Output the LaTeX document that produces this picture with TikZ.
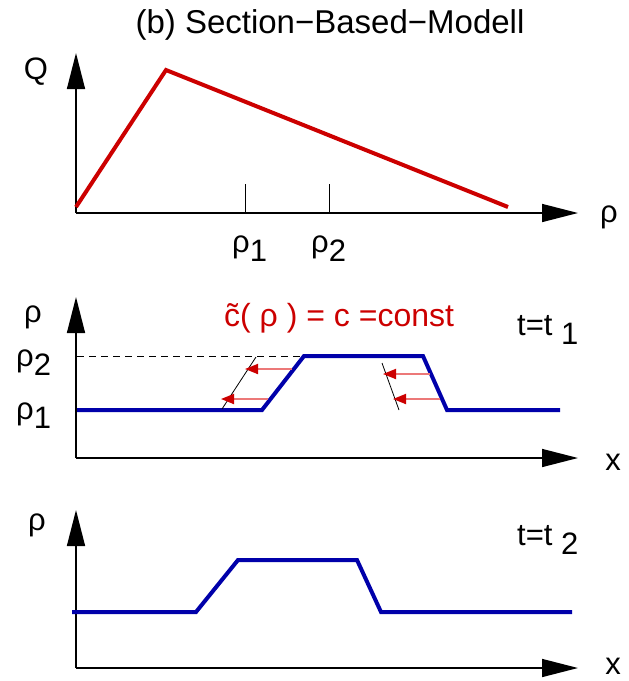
\documentclass[tikz,border=0pt]{standalone}
\usepackage{fontspec}
\setmainfont{Liberation Sans}
\usetikzlibrary{arrows.meta}
\definecolor{cred}{RGB}{204,0,0}
\definecolor{cblue}{RGB}{0,0,170}
\definecolor{cpink}{RGB}{236,120,120}
\newcommand\lowsub[1]{\raisebox{-0.32em}{#1}}
\begin{document}
\begin{tikzpicture}[x=1pt,y=-1pt,
  axis/.style={line width=1.5pt,-{Triangle[length=36pt,width=18pt]}},
  bluecurve/.style={line width=4pt,cblue,line join=miter},
  redcurve/.style={line width=4pt,cred,line join=miter},
  thin/.style={line width=0.8pt,black},
  flow/.style={line width=1.8pt,cpink,-{Triangle[length=13pt,width=10pt,color=cred]}},
  lbl/.style={inner sep=0pt,font=\fontsize{31}{36}\selectfont},
  redlbl/.style={inner sep=0pt,text=cred,font=\fontsize{32}{36}\selectfont},
  ttl/.style={inner sep=0pt,font=\fontsize{33}{38}\selectfont}
]
\useasboundingbox (0,0) rectangle (629,681);

% title
\node[ttl,anchor=base] (title) at (330,33) {(b) Section−Based−Modell};

% ---------- top panel ----------
\coordinate (o1) at (76,213);
\coordinate (y1) at (76,53);
\coordinate (x1) at (578,213);
\draw[axis] (o1) -- (y1);
\draw[axis] (o1) -- (x1);
\node[lbl,anchor=base] (Q) at (36,79) {Q};
\node[lbl,anchor=base] (rho1x) at (609,222) {ρ};
\coordinate (s0) at (76,207);
\coordinate (s1) at (166,70);
\coordinate (s2) at (508,207);
\draw[redcurve] (s0) -- (s1) -- (s2);
\coordinate (t1a) at (245,184); \coordinate (t1b) at (245,213);
\coordinate (t2a) at (329,184); \coordinate (t2b) at (329,213);
\draw[thin] (t1a) -- (t1b);
\draw[thin] (t2a) -- (t2b);
\node[lbl,anchor=base west] (lr1) at (232,252) {ρ\lowsub{1}};
\node[lbl,anchor=base west] (lr2) at (311,252) {ρ\lowsub{2}};

% ---------- middle panel ----------
\coordinate (o2) at (76,458);
\coordinate (y2) at (76,297);
\coordinate (x2) at (578,458);
\draw[axis] (o2) -- (y2);
\draw[axis] (o2) -- (x2);
\node[lbl,anchor=base] (rhoy2) at (33,322) {ρ};
\node[lbl,anchor=base west] (mr2) at (16,366) {ρ\lowsub{2}};
\node[lbl,anchor=base west] (mr1) at (16,419) {ρ\lowsub{1}};
\node[lbl,anchor=base] (xl2) at (613,470) {x};
\node[redlbl,anchor=base west] (ceq) at (224,326) {\~{c}( ρ ) = c =const};
\node[lbl,anchor=base west] (tt1) at (517,335) {t=t \lowsub{1}};
\coordinate (d0) at (77,356);
\coordinate (b1) at (304,356);
\draw[thin,dash pattern=on 7pt off 5pt] (d0) -- (b1);
\coordinate (b0) at (77,410);
\coordinate (b2) at (262,410);
\coordinate (b3) at (423,356);
\coordinate (b4) at (447,410);
\coordinate (b5) at (560,410);
\draw[bluecurve] (b0) -- (b2) -- (b1) -- (b3) -- (b4) -- (b5);
\coordinate (k1a) at (222,409); \coordinate (k1b) at (256,357);
\coordinate (k2a) at (382,363); \coordinate (k2b) at (399,410);
\draw[thin] (k1a) -- (k1b);
\draw[thin] (k2a) -- (k2b);
\coordinate (f1a) at (292,369); \coordinate (f1b) at (245,369);
\coordinate (f2a) at (268,399); \coordinate (f2b) at (221,399);
\coordinate (f3a) at (430,374); \coordinate (f3b) at (383,374);
\coordinate (f4a) at (440,399); \coordinate (f4b) at (393,399);
\draw[flow] (f1a) -- (f1b);
\draw[flow] (f2a) -- (f2b);
\draw[flow] (f3a) -- (f3b);
\draw[flow] (f4a) -- (f4b);

% ---------- bottom panel ----------
\coordinate (o3) at (76,668);
\coordinate (y3) at (76,510);
\coordinate (x3) at (578,668);
\draw[axis] (o3) -- (y3);
\draw[axis] (o3) -- (x3);
\node[lbl,anchor=base] (rhoy3) at (37,530) {ρ};
\node[lbl,anchor=base] (xl3) at (613,674) {x};
\node[lbl,anchor=base west] (tt2) at (517,545) {t=t \lowsub{2}};
\coordinate (c0) at (72,612);
\coordinate (c1) at (196,612);
\coordinate (c2) at (238,560);
\coordinate (c3) at (357,560);
\coordinate (c4) at (381,612);
\coordinate (c5) at (572,612);
\draw[bluecurve] (c0) -- (c1) -- (c2) -- (c3) -- (c4) -- (c5);
\end{tikzpicture}
\end{document}
